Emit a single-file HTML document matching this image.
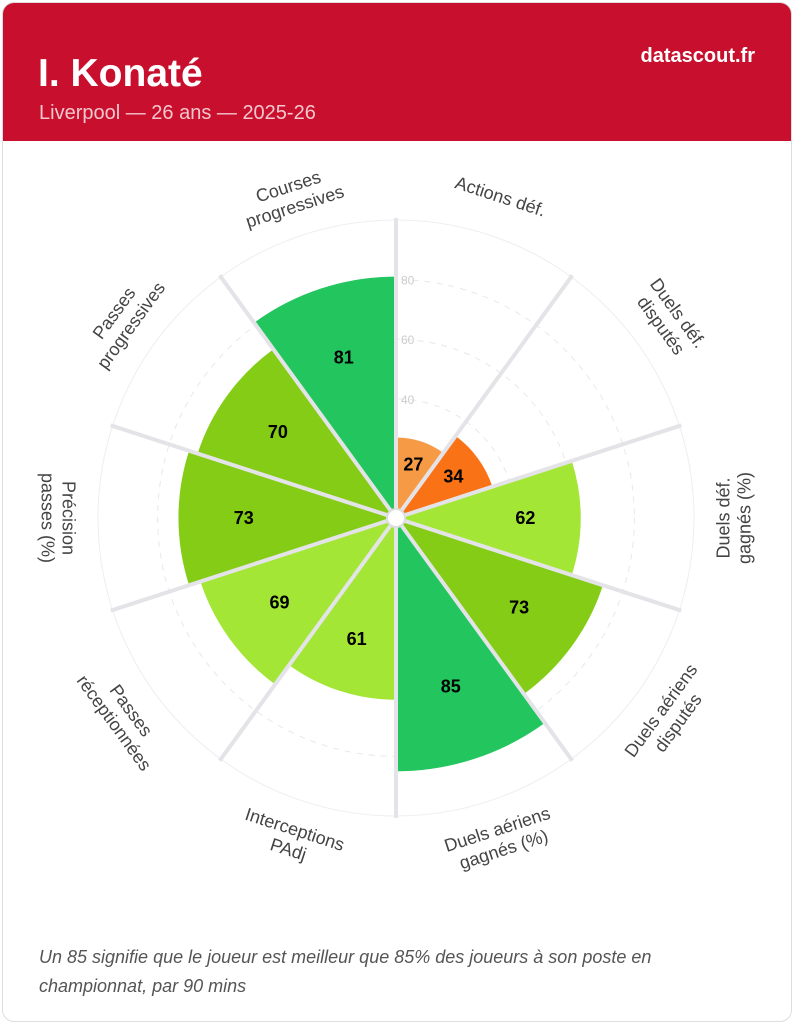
<!DOCTYPE html>
<html><head><meta charset="utf-8">
<style>
html,body{margin:0;padding:0;background:#fff;}
body{width:794px;height:1024px;position:relative;font-family:"Liberation Sans",sans-serif;overflow:hidden;}
.card{position:absolute;left:2px;top:2px;width:788px;height:1018px;border:1px solid #ddd;border-radius:12px;overflow:hidden;background:#fff;}
.hdr{position:absolute;left:0;top:0;width:788px;height:138px;background:#c8102e;}
.title{position:absolute;left:35px;top:49px;font-size:39px;font-weight:bold;color:#fff;}
.sub{position:absolute;left:36px;top:99px;font-size:20px;color:#f4c6cd;}
.brand{position:absolute;right:36px;top:42px;font-size:20px;font-weight:bold;color:#fff;}
.foot{position:absolute;left:36px;top:940px;width:700px;font-size:18px;font-style:italic;color:#555;line-height:29px;}
svg{position:absolute;left:0;top:0;}
</style></head><body>
<div class="card">
<div class="hdr">
<div class="title">I. Konaté</div>
<div class="sub">Liverpool — 26 ans — 2025-26</div>
<div class="brand">datascout.fr</div>
</div>
<div class="foot">Un 85 signifie que le joueur est meilleur que 85% des joueurs à son poste en championnat, par 90 mins</div>
</div>
<svg id="chart" width="794" height="1024"></svg>
<script>
const categories=[["Actions déf."],["Duels déf.","disputés"],["Duels déf.","gagnés (%)"],["Duels aériens","disputés"],["Duels aériens","gagnés (%)"],["Interceptions","PAdj"],["Passes","réceptionnées"],["Précision","passes (%)"],["Passes","progressives"],["Courses","progressives"]];
const values=[27,34,62,73,85,61,69,73,70,81];
const colors=["#f79a45","#f97316","#a3e635","#84cc16","#22c55e","#a3e635","#a3e635","#84cc16","#84cc16","#22c55e"];
const ticks=[40,60,80];
const cx=396,cy=518,R=298;
const NS="http://www.w3.org/2000/svg";
const svg=document.getElementById('chart');
function rad(v){return v/100*R;}
function pt(r,a){const t=a*Math.PI/180;return [cx+r*Math.sin(t),cy-r*Math.cos(t)];}
function mk(tag,attrs){const e=document.createElementNS(NS,tag);for(const k in attrs)e.setAttribute(k,attrs[k]);svg.appendChild(e);return e;}
let c=mk('circle',{cx:cx,cy:cy,r:R,fill:'#fff',stroke:'#eee','stroke-width':1});


[20,40,60,80].forEach(t=>{const g=mk('circle',{cx:cx,cy:cy,r:rad(t),fill:'none',stroke:'#e8e8ec','stroke-dasharray':'6 6','stroke-width':1});

});
const n=values.length,step=360/n;
values.forEach((v,i)=>{
 const a0=i*step,a1=(i+1)*step,r=rad(v);
 const p0=pt(r,a0),p1=pt(r,a1);
 const p=mk('path',{d:`M${cx},${cy}L${p0[0]},${p0[1]}A${r},${r} 0 0 1 ${p1[0]},${p1[1]}Z`,fill:colors[i]});
 
 
});
for(let i=0;i<n;i++){const e=pt(R+2,i*step);
 const l=mk('line',{x1:cx,y1:cy,x2:e[0],y2:e[1],stroke:'#e4e4e8','stroke-width':4});
 
 }
ticks.forEach(t=>{const tx=mk('text',{x:cx+5,y:cy-rad(t)+5,'font-size':12,fill:'#ccc'});tx.textContent=t;
 
 });
const hole=mk('circle',{cx:cx,cy:cy,r:9,fill:'#fff',stroke:'#ddd','stroke-width':2});


values.forEach((v,i)=>{const a=(i+0.5)*step;const p=pt(rad(v)*0.7,a);
 const t=mk('text',{x:p[0],y:p[1]+6,'text-anchor':'middle','font-size':18,'font-weight':'bold',fill:'#000'});t.textContent=v;
 
 });
categories.forEach((lines,i)=>{const a=(i+0.5)*step;const p=pt(338,a);
 let rot=(a>=90&&a<=270)?a-180:(a>270?a-360:a);
 const t=mk('text',{transform:`translate(${p[0]},${p[1]}) rotate(${rot})`,'text-anchor':'middle','font-size':18,fill:'#444'});
 
 
 const off=-(lines.length-1)*10.5+6;
 lines.forEach((s,j)=>{const ts=document.createElementNS(NS,'tspan');ts.setAttribute('x',0);ts.setAttribute('y',off+j*21);ts.textContent=s;t.appendChild(ts);});
});
</script>
</body></html>
